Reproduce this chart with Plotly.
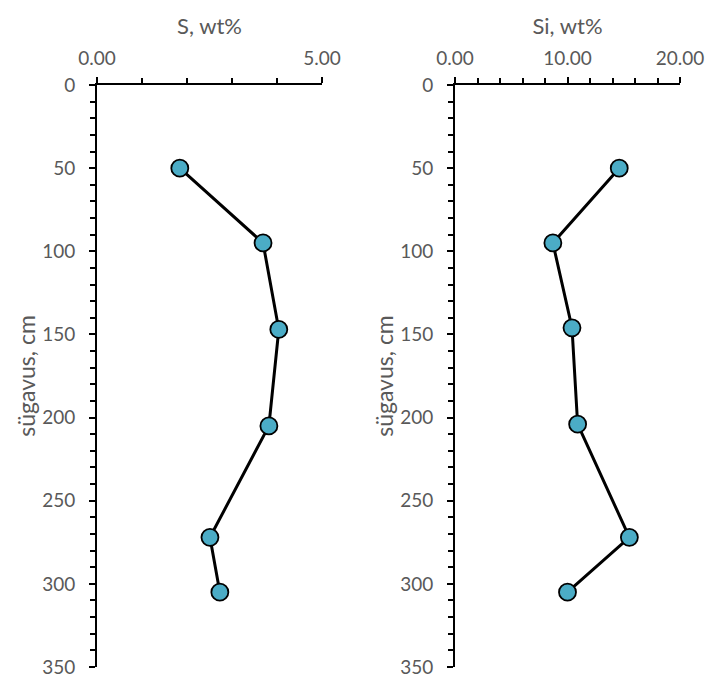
import plotly.graph_objects as go

depth_s = [50, 95, 147, 205, 272, 305]
s_wt = [1.84, 3.69, 4.04, 3.82, 2.51, 2.73]
depth_si = [50, 95, 146, 204, 272, 305]
si_wt = [14.6, 8.7, 10.4, 10.9, 15.5, 10.0]

FONT = "Lato"
GRAY = "#595959"
marker = dict(size=17, color="#4BACC6", line=dict(color="black", width=1.8))
line = dict(color="black", width=3)

fig = go.Figure()
fig.add_trace(go.Scatter(x=s_wt, y=depth_s, mode="lines+markers", marker=marker,
                         line=line, xaxis="x", yaxis="y", showlegend=False))
fig.add_trace(go.Scatter(x=si_wt, y=depth_si, mode="lines+markers", marker=marker,
                         line=line, xaxis="x2", yaxis="y2", showlegend=False))

W, H = 707, 674
ytop, ybot = 85, 667
dom_y = [(H - ybot) / H, (H - ytop) / H]

def xaxis(rng, dtick, mdtick, x0, x1, title):
    return dict(domain=[x0 / W, x1 / W], range=rng, side="top", dtick=dtick,
                tickformat=".2f", showline=True, linecolor="black", linewidth=2,
                ticks="outside", ticklen=6, tickwidth=2, tickcolor="black",
                minor=dict(ticks="outside", dtick=mdtick, ticklen=5, tickwidth=2, tickcolor="black"),
                showgrid=False, zeroline=False, automargin=False,
                ticklabelstandoff=4,
                tickfont=dict(family=FONT, size=19, color=GRAY),
                title=dict(text=title, font=dict(family=FONT, size=22, color=GRAY), standoff=6))

def yaxis(anchor):
    return dict(domain=dom_y, range=[350, 0], dtick=50, anchor=anchor,
                showline=True, linecolor="black", linewidth=2,
                ticks="outside", ticklen=6, tickwidth=2, tickcolor="black",
                minor=dict(ticks="outside", dtick=10, ticklen=5, tickwidth=2, tickcolor="black"),
                showgrid=False, zeroline=False, automargin=False,
                ticklabeloverflow="allow", ticklabelstandoff=10,
                tickfont=dict(family=FONT, size=19, color=GRAY),
                title=dict(text="sügavus, cm", font=dict(family=FONT, size=23, color=GRAY), standoff=0))

fig.update_layout(
    width=W, height=H, margin=dict(l=0, r=0, t=0, b=0),
    paper_bgcolor="white", plot_bgcolor="white",
    xaxis=dict(xaxis([0, 5], 5, 1, 97, 322, "S, wt%"), anchor="y"),
    yaxis=yaxis("x"),
    xaxis2=dict(xaxis([0, 20], 10, 2, 455, 680, "Si, wt%"), anchor="y2"),
    yaxis2=yaxis("x2"),
)

fig.write_html("out.html")
